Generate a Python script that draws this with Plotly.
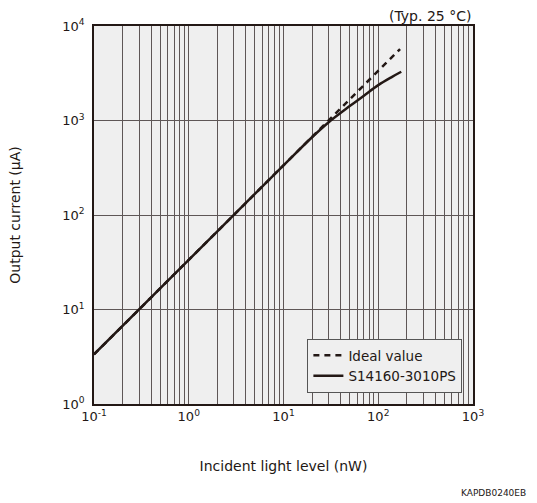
import plotly.graph_objects as go

# Incident light level (nW) and output current (uA)
ideal_x = [0.1, 1, 10, 100, 170]
ideal_y = [3.35, 33.5, 335, 3350, 5700]

meas_x = [0.1, 1, 10, 20, 30, 50, 70, 100, 140, 175]
meas_y = [3.35, 33.5, 335, 665, 960, 1420, 1820, 2370, 2900, 3280]

x_ticks = [0.1, 1, 10, 100, 1000]
x_labels = ["10<sup>-1</sup>", "10<sup>0</sup>", "10<sup>1</sup>", "10<sup>2</sup>", "10<sup>3</sup>"]
y_ticks = [1, 10, 100, 1000, 10000]
y_labels = ["10<sup>0</sup>", "10<sup>1</sup>", "10<sup>2</sup>", "10<sup>3</sup>", "10<sup>4</sup>"]

INK = "#231815"
GRID = "#5e5656"
FONT = "DejaVu Sans"

fig = go.Figure()
fig.add_trace(go.Scatter(
    x=ideal_x, y=ideal_y, mode="lines", name="Ideal value",
    line=dict(color=INK, width=2.5, dash="6px,5px"),
))
fig.add_trace(go.Scatter(
    x=meas_x, y=meas_y, mode="lines", name="S14160-3010PS",
    line=dict(color=INK, width=2.5, shape="spline"),
))

fig.update_layout(
    width=537, height=503,
    margin=dict(l=94, r=64, t=26, b=99),
    paper_bgcolor="white",
    plot_bgcolor="#efefef",
    font=dict(family=FONT, size=13, color=INK),
    showlegend=True,
    legend=dict(
        x=0.972, y=0.029, xanchor="right", yanchor="bottom",
        bgcolor="#efefef", bordercolor="#555555", borderwidth=1,
        font=dict(size=13.5, color=INK),
        tracegroupgap=0, itemwidth=30,
    ),
    xaxis=dict(
        type="log", range=[-1, 3],
        tickmode="array", tickvals=x_ticks, ticktext=x_labels,
        showgrid=True, gridcolor=GRID, gridwidth=1,
        minor=dict(dtick="D1", showgrid=True, gridcolor=GRID, gridwidth=1, ticks=""),
        showline=True, linecolor=INK, linewidth=1.5, mirror=True,
        ticks="", ticklen=0, zeroline=False,
        title=dict(text="Incident light level (nW)", font=dict(size=14), standoff=38),
    ),
    yaxis=dict(
        type="log", range=[0, 4],
        tickmode="array", tickvals=y_ticks, ticktext=y_labels,
        showgrid=True, gridcolor=GRID, gridwidth=1,
        showline=True, linecolor=INK, linewidth=1.5, mirror=True,
        ticks="outside", ticklen=5, tickcolor="rgba(0,0,0,0)", zeroline=False,
        title=dict(text="Output current (μA)", font=dict(size=14), standoff=38),
    ),
    annotations=[
        dict(text="(Typ. 25 °C)", x=1, y=1, xref="paper", yref="paper",
             xanchor="right", yanchor="bottom", showarrow=False,
             font=dict(size=14, color=INK), yshift=0),
        dict(text="KAPDB0240EB", x=1.0, y=0, xref="paper", yref="paper",
             xanchor="center", yanchor="middle", showarrow=False, xshift=20, yshift=-89,
             font=dict(size=9, color=INK)),
    ],
)

fig.write_html("out.html")
